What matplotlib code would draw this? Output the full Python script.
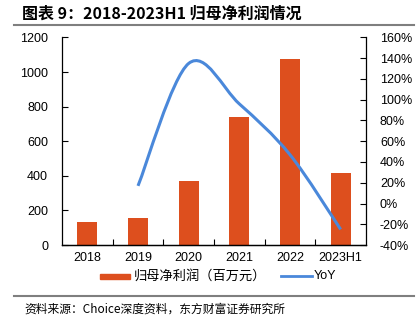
import numpy as np
import matplotlib.pyplot as plt
from matplotlib.path import Path
from matplotlib.patches import PathPatch
from matplotlib.lines import Line2D
from matplotlib.patches import Rectangle

plt.rcParams['font.family'] = ['Liberation Sans', 'Noto Sans CJK SC', 'DejaVu Sans']

years = ['2018', '2019', '2020', '2021', '2022', '2023H1']
profit = [131, 154, 368, 738, 1075, 416]
yoy_years = [1, 2, 3, 4, 5]
yoy = [17, 135, 96, 47, -25]

bar_color = '#DD4F1E'
line_color = '#4A88DA'

fig = plt.figure(figsize=(4.2, 3.23), dpi=100)
ax = fig.add_axes([62/420, 1-245/323, 304/420, 207.5/323])
x = np.arange(len(years))
ax.bar(x, profit, 0.39, color=bar_color, zorder=2)
ax.set_xlim(-0.5, 5.5)
ax.set_ylim(0, 1200)
ax.set_yticks(range(0, 1201, 200))
ax.set_xticks(x)
ax.set_xticklabels(years, fontsize=9)
ax.set_xticks(np.arange(0.5, 5.5, 1), minor=True)
ax.tick_params(axis='x', which='major', length=0, pad=5)
ax.tick_params(axis='x', which='minor', direction='in', length=4, width=0.8)
ax.tick_params(axis='y', direction='in', length=4, width=0.8, labelsize=9, pad=10)
ax.spines['top'].set_visible(False)
ax.spines['right'].set_visible(False)

ax2 = ax.twinx()
ax2.set_ylim(-40, 160)
ax2.set_yticks(range(-40, 161, 20))
ax2.set_yticklabels([f'{v}%' for v in range(-40, 161, 20)])
ax2.tick_params(axis='y', direction='in', length=4, width=0.8, labelsize=9, pad=10)
ax2.spines['top'].set_visible(False)
ax2.spines['left'].set_visible(False)
for a in (ax, ax2):
    for s in a.spines.values():
        s.set_linewidth(0.9)

# smoothed line (Excel style), drawn as cubic Bezier through the data points
px = np.array(yoy_years, dtype=float)
py = np.array(yoy, dtype=float)
verts = [(px[0], py[0])]
codes = [Path.MOVETO]
n = len(px)
for i in range(n - 1):
    p0 = np.array([px[max(i-1, 0)], py[max(i-1, 0)]])
    p1 = np.array([px[i], py[i]])
    p2 = np.array([px[i+1], py[i+1]])
    p3 = np.array([px[min(i+2, n-1)], py[min(i+2, n-1)]])
    c1 = p1 + (p2 - p0) / 6
    c2 = p2 - (p3 - p1) / 6
    verts += [tuple(c1), tuple(c2), tuple(p2)]
    codes += [Path.CURVE4] * 3
ax2.add_patch(PathPatch(Path(verts, codes), facecolor='none', edgecolor=line_color,
                        lw=2.2, capstyle='butt', zorder=3))

# title and rules
fig.text(22/420, 1-14/323, '图表 9：2018-2023H1 归母净利润情况', fontsize=11.5,
         fontweight='bold', va='center', family=['Noto Sans CJK SC', 'DejaVu Sans'])
fig.add_artist(Line2D([14/420, 414/420], [1-25/323, 1-25/323], color='#7f7f7f', lw=1.5))
fig.add_artist(Line2D([14/420, 414/420], [1-296/323, 1-296/323], color='#7f7f7f', lw=1.5))
fig.text(24/420, 1-309/323, '资料来源：Choice深度资料，东方财富证券研究所', fontsize=8.5,
         va='center', family=['Noto Sans CJK SC', 'DejaVu Sans'])

# legend
fig.add_artist(Rectangle((100/420, 1-279/323), 30/420, 5/323, color=bar_color))
fig.text(134/420, 1-276/323, '归母净利润（百万元）', fontsize=9.5, va='center',
         family=['Noto Sans CJK SC', 'DejaVu Sans'])
fig.add_artist(Line2D([281/420, 312/420], [1-276/323, 1-276/323], color=line_color, lw=2))
fig.text(314/420, 1-276/323, 'YoY', fontsize=9, va='center')

fig.savefig('out.png', dpi=100)
